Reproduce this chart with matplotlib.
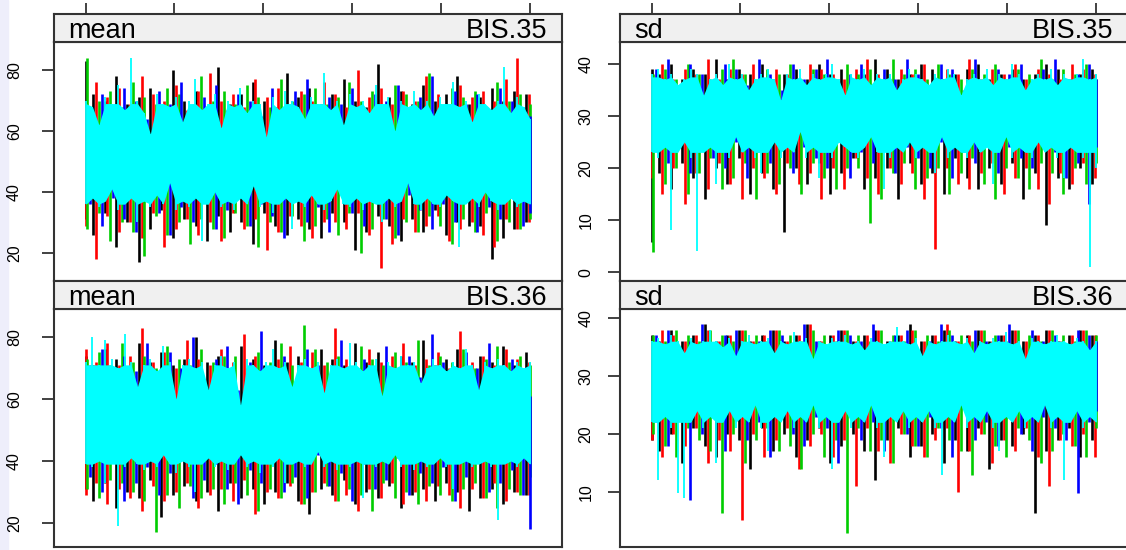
import numpy as np
import matplotlib.pyplot as plt
from matplotlib.patches import Rectangle

plt.rcParams['font.family'] = ['Liberation Sans', 'DejaVu Sans']

# --- dados: cadeias MCMC, pares (maximo, minimo) por janela de iteracoes ---
N_ITER = 1000
X_TICKS = [0, 200, 400, 600, 800, 1000]
CHAIN_COLORS = ['black', 'red', '#00CD00', 'blue', 'cyan']

# mean / BIS.35
mean35_black = [83, 31, 72, 26, 70, 33, 78, 22, 69, 30, 71, 17, 74, 28, 68, 34, 80, 25, 70, 31,
                73, 29, 67, 24, 81, 32, 69, 27, 72, 30, 76, 23, 70, 33, 68, 29, 79, 26, 71, 31,
                74, 28, 69, 25, 72, 33, 77, 30, 70, 21, 68, 27, 82, 32, 71, 29, 73, 24, 69, 31,
                75, 27, 70, 34, 72, 26, 78, 30, 69, 29, 71, 29, 74, 18, 70, 25, 73, 28, 72, 30]
mean35_red = [68, 29, 76, 18, 71, 32, 74, 27, 69, 30, 78, 25, 72, 33, 70, 22, 75, 28, 67, 31,
              73, 26, 79, 30, 70, 24, 72, 33, 68, 28, 77, 31, 71, 21, 74, 27, 69, 32, 73, 29,
              70, 25, 76, 30, 72, 30, 68, 28, 80, 33, 71, 26, 74, 15, 69, 23, 73, 31, 70, 27,
              78, 29, 72, 32, 69, 24, 75, 28, 71, 30, 73, 26, 70, 22, 77, 31, 84, 28, 72, 30]
mean35_green = [84, 28, 70, 33, 73, 24, 68, 30, 76, 27, 71, 19, 69, 32, 74, 26, 72, 30, 67, 23,
                78, 31, 70, 28, 73, 25, 69, 33, 75, 29, 71, 22, 68, 30, 77, 27, 70, 32, 72, 24,
                74, 29, 69, 31, 71, 26, 76, 33, 70, 20, 73, 28, 68, 31, 75, 25, 72, 30, 70, 27,
                79, 32, 69, 29, 74, 23, 71, 31, 73, 27, 68, 33, 76, 24, 70, 30, 72, 28, 69, 31]
mean35_blue = [60, 36, 72, 29, 66, 38, 74, 31, 70, 27, 64, 40, 73, 33, 69, 26, 76, 35, 63, 30,
               71, 39, 75, 28, 67, 34, 72, 41, 70, 29, 65, 36, 74, 32, 68, 25, 73, 38, 77, 30,
               66, 35, 71, 27, 69, 40, 74, 33, 63, 29, 72, 37, 70, 31, 75, 26, 67, 39, 71, 34,
               78, 28, 64, 36, 73, 30, 69, 42, 72, 27, 66, 35, 74, 31, 70, 38, 68, 29, 65, 33]
mean35_cyan = [70, 36, 68, 38, 62, 35, 71, 37, 69, 41, 75, 34, 67, 36, 84, 38, 70, 30, 66, 37,
               59, 35, 72, 39, 69, 36, 68, 43, 71, 34, 63, 37, 70, 35, 77, 38, 67, 24, 69, 36,
               72, 40, 61, 35, 70, 37, 68, 34, 74, 38, 66, 36, 70, 42, 69, 35, 58, 37, 71, 33,
               67, 36, 73, 38, 70, 28, 68, 37, 64, 35, 71, 39, 69, 36, 79, 34, 67, 37, 70, 41,
               62, 36, 72, 35, 68, 38, 70, 34, 66, 37, 75, 36, 69, 30, 71, 38, 60, 35, 70, 37,
               68, 43, 73, 36, 67, 34, 70, 38, 65, 36, 71, 35, 69, 39, 76, 37, 68, 22, 70, 36,
               63, 38, 72, 35, 69, 40, 67, 37, 70, 34, 81, 36, 66, 38, 71, 35, 68, 37, 64, 36]

# mean / BIS.36
mean36_black = [74, 31, 71, 27, 76, 33, 73, 25, 70, 30, 78, 28, 72, 34, 75, 22, 71, 29, 73, 32,
                80, 27, 72, 30, 74, 24, 70, 33, 77, 28, 73, 31, 71, 26, 79, 30, 72, 33, 74, 27,
                70, 23, 76, 31, 73, 29, 71, 34, 78, 26, 72, 30, 75, 28, 70, 32, 74, 25, 72, 29,
                79, 31, 71, 27, 73, 33, 76, 30, 70, 24, 74, 28, 72, 31, 77, 26, 71, 30, 75, 29]
mean36_red = [76, 29, 72, 33, 78, 26, 71, 31, 74, 28, 83, 24, 72, 32, 75, 27, 70, 30, 79, 33,
              73, 25, 71, 29, 76, 31, 72, 27, 81, 34, 74, 23, 70, 30, 73, 28, 77, 32, 72, 26,
              75, 30, 71, 33, 83, 27, 73, 29, 70, 24, 76, 31, 72, 28, 74, 33, 78, 26, 71, 30,
              73, 27, 75, 32, 70, 29, 82, 25, 72, 31, 74, 28, 71, 33, 76, 27, 73, 30, 72, 29]
mean36_green = [73, 31, 75, 28, 71, 34, 78, 33, 72, 30, 74, 27, 70, 17, 77, 29, 73, 25, 71, 32,
                76, 28, 72, 31, 74, 26, 74, 33, 70, 29, 75, 24, 72, 31, 78, 28, 71, 33, 84, 26,
                76, 30, 72, 32, 74, 27, 70, 31, 77, 29, 73, 24, 71, 33, 75, 28, 72, 30, 79, 26,
                71, 32, 74, 29, 72, 27, 76, 31, 70, 33, 73, 28, 77, 25, 72, 31, 74, 29, 71, 35]
mean36_blue = [71, 35, 76, 30, 64, 40, 74, 27, 69, 33, 78, 38, 62, 29, 75, 36, 70, 41, 80, 28,
               66, 34, 73, 39, 77, 31, 63, 26, 72, 37, 82, 33, 68, 40, 74, 30, 60, 35, 76, 28,
               71, 42, 65, 32, 79, 36, 70, 27, 73, 39, 62, 31, 77, 34, 69, 41, 74, 29, 67, 36,
               81, 33, 72, 38, 64, 27, 75, 35, 70, 40, 78, 30, 66, 33, 73, 37, 69, 29, 61, 18]
mean36_cyan = [72, 39, 80, 38, 71, 40, 79, 33, 73, 39, 70, 19, 81, 38, 72, 41, 64, 39, 71, 37,
               73, 40, 69, 38, 77, 42, 72, 39, 60, 36, 71, 40, 73, 38, 70, 30, 72, 39, 63, 41,
               71, 38, 74, 40, 70, 37, 72, 39, 58, 42, 73, 38, 71, 40, 69, 36, 72, 39, 76, 38,
               70, 41, 72, 33, 64, 39, 71, 40, 73, 38, 70, 39, 72, 43, 62, 38, 71, 40, 73, 37,
               70, 39, 78, 38, 72, 40, 69, 28, 71, 39, 73, 38, 61, 40, 72, 39, 70, 42, 74, 38,
               71, 39, 72, 37, 65, 40, 70, 38, 73, 39, 71, 41, 69, 38, 72, 31, 70, 39, 76, 40,
               71, 38, 63, 39, 72, 40, 70, 38, 73, 21, 71, 39, 69, 40, 72, 38, 70, 41, 72, 39]

# sd / BIS.35
sd35_black = [39, 5.8, 38, 19, 40, 16, 37, 21, 39, 18, 38, 14, 41, 20, 37, 17, 39, 22, 38, 15,
              40, 19, 37, 16, 38, 7.7, 39, 20, 37, 17, 40, 21, 38, 15, 39, 19, 37, 22, 38, 16,
              41, 18, 39, 20, 37, 14, 38, 21, 40, 17, 39, 19, 37, 15, 38, 22, 39, 18, 40, 16,
              37, 20, 38, 17, 39, 21, 37, 14, 38, 19, 40, 9, 39, 18, 37, 16, 38, 20, 39, 17]
sd35_red = [38, 18, 40, 15, 37, 20, 39, 13, 38, 19, 41, 16, 37, 21, 39, 17, 38, 14, 40, 20,
            37, 18, 39, 15, 38, 21, 37, 17, 40, 19, 39, 14, 38, 20, 37, 16, 39, 22, 41, 18,
            38, 15, 37, 20, 39, 17, 38, 19, 40, 14, 37, 4.5, 39, 20, 38, 17, 41, 16, 37, 19,
            39, 21, 38, 15, 40, 18, 37, 20, 39, 16, 38, 13, 37, 19, 40, 17, 39, 21, 38, 18]
sd35_green = [38, 3.8, 39, 17, 37, 20, 40, 15, 38, 19, 37, 22, 39, 16, 41, 18, 38, 21, 37, 14,
              39, 19, 38, 17, 40, 20, 37, 15, 39, 21, 38, 18, 37, 16, 40, 20, 38, 20, 39, 9.5,
              37, 14, 41, 19, 38, 21, 39, 16, 37, 18, 40, 20, 38, 15, 37, 19, 39, 22, 38, 17,
              40, 14, 37, 20, 39, 18, 38, 16, 41, 21, 37, 19, 39, 15, 38, 20, 40, 17, 37, 21]
sd35_blue = [39, 25, 41, 21, 36, 24, 40, 19, 38, 26, 35, 22, 40, 20, 39, 25, 36, 18, 41, 23,
             38, 21, 35, 26, 40, 19, 37, 24, 39, 22, 41, 20, 36, 25, 38, 18, 40, 23, 35, 21,
             39, 26, 37, 19, 41, 24, 38, 22, 36, 20, 40, 25, 39, 18, 35, 23, 41, 21, 37, 26,
             39, 19, 38, 24, 40, 22, 36, 20, 39, 25, 41, 23, 35, 18, 38, 21, 40, 13, 37, 24]
sd35_cyan = [38, 23, 39, 22, 37, 24, 38, 8, 36, 23, 37, 25, 39, 22, 38, 4, 34, 23, 37, 24,
             38, 17, 36, 23, 40, 22, 37, 26, 38, 23, 35, 24, 37, 22, 38, 19, 39, 23, 37, 25,
             33, 22, 38, 24, 37, 23, 39, 27, 36, 22, 38, 24, 37, 18, 38, 23, 40, 22, 37, 25,
             34, 24, 38, 23, 37, 22, 39, 24, 36, 26, 38, 23, 37, 16, 38, 22, 35, 24, 37, 23,
             39, 25, 38, 22, 37, 24, 36, 23, 38, 19, 37, 26, 39, 22, 38, 24, 34, 23, 37, 22,
             38, 25, 37, 23, 39, 24, 36, 17, 38, 23, 37, 26, 40, 22, 38, 24, 35, 23, 37, 22,
             38, 25, 37, 23, 39, 24, 36, 22, 38, 18, 37, 24, 38, 23, 41, 22, 37, 1, 38, 20]

# sd / BIS.36
sd36_black = [37, 19, 36, 17, 38, 20, 36, 15, 37, 21, 39, 18, 36, 16, 37, 20, 38, 19, 36, 14,
              37, 21, 38, 17, 36, 20, 37, 16, 39, 19, 36, 21, 37, 15, 38, 18, 36, 20, 37, 17,
              38, 12, 36, 19, 37, 21, 39, 16, 36, 18, 37, 20, 38, 15, 36, 19, 37, 17, 38, 21,
              36, 14, 37, 19, 38, 18, 36, 20, 37, 6.4, 38, 17, 36, 19, 37, 21, 38, 16, 37, 19]
sd36_red = [36, 19, 38, 16, 37, 20, 36, 18, 37, 21, 38, 15, 36, 19, 37, 17, 38, 5.2, 36, 20,
            37, 16, 38, 19, 36, 21, 37, 14, 39, 18, 36, 20, 37, 16, 38, 19, 36, 11, 37, 21,
            38, 17, 36, 15, 37, 20, 38, 18, 36, 16, 37, 19, 39, 21, 36, 10, 37, 17, 38, 20,
            36, 15, 37, 19, 38, 17, 36, 21, 37, 16, 38, 11, 36, 19, 37, 18, 38, 20, 37, 16]
sd36_green = [37, 20, 36, 18, 38, 16, 37, 21, 36, 19, 38, 17, 37, 6.4, 36, 20, 38, 15, 37, 19,
              36, 21, 38, 17, 37, 18, 36, 14, 38, 20, 37, 16, 36, 19, 38, 3, 37, 21, 36, 17,
              38, 19, 37, 15, 36, 20, 38, 18, 37, 16, 36, 21, 38, 19, 37, 17, 36, 13, 38, 20,
              37, 18, 36, 16, 38, 21, 37, 19, 36, 15, 38, 17, 37, 20, 36, 18, 38, 16, 37, 21]
sd36_blue = [37, 22, 38, 18, 34, 24, 36, 8.6, 39, 20, 35, 23, 37, 17, 38, 25, 33, 19, 36, 22,
             38, 16, 37, 24, 35, 20, 39, 18, 36, 23, 34, 21, 38, 15, 37, 25, 36, 19, 39, 22,
             35, 17, 37, 24, 38, 20, 34, 18, 36, 23, 39, 21, 37, 16, 35, 25, 38, 19, 36, 22,
             37, 18, 39, 24, 34, 20, 38, 17, 36, 23, 37, 21, 35, 19, 38, 9.8, 37, 22, 36, 24]
sd36_cyan = [36, 22, 36.5, 12, 35.5, 23, 37, 21, 36, 9.8, 34, 9, 36.5, 22, 35.5, 24, 36, 21, 38, 23,
             36, 15, 35, 22, 36.5, 24, 33.5, 21, 36, 23, 37, 22, 35.5, 25, 36, 21, 36.5, 17, 34, 23,
             36, 22, 35.5, 24, 37.5, 21, 36, 23, 36.5, 22, 33, 25, 36, 21, 35.5, 23, 36.5, 14, 36, 22,
             37, 24, 35.5, 21, 36, 23, 34.5, 22, 36.5, 25, 36, 21, 35.5, 16, 36, 23, 38.5, 22, 36, 24,
             35.5, 21, 36.5, 23, 33.5, 22, 36, 24, 35.5, 21, 36, 13, 37, 23, 36, 22, 35.5, 25,
             36.5, 21, 34, 23, 36, 22, 35.5, 24, 36.5, 21, 36, 17, 37.5, 23, 35.5, 22, 36, 24,
             33, 21, 36.5, 23, 36, 22, 35.5, 25, 36, 21, 37, 23, 36, 12, 35.5, 22, 36.5, 24,
             36, 21, 34.5, 23, 36, 22]

W, H = 1126, 550
EDGE = '#333333'


def rect(x0, y0, x1, y1):
    # caixa em pixels (origem no topo) -> coordenadas da figura
    return [x0 / W, 1 - y1 / H, (x1 - x0) / W, (y1 - y0) / H]


def draw_panel(box, chains, ylim, yticks, stat, param, top_ticks, pad):
    x0, x1, ys, yt, yb = box
    ax = fig.add_axes(rect(x0, yt, x1, yb))
    for k, (vals, col) in enumerate(zip(chains, CHAIN_COLORS)):
        hi = np.array(vals[0::2], dtype=float)
        lo = np.array(vals[1::2], dtype=float)
        n = len(hi)
        xs = np.linspace(1, N_ITER, n)
        if col == 'cyan':
            # ultima cadeia: miolo solido + excursoes finas
            core_hi = np.minimum(hi, np.median(hi))
            core_lo = np.maximum(lo, np.median(lo))
            ax.fill_between(xs, core_lo, core_hi, color=col, lw=0, zorder=10)
            ax.vlines(xs, lo, hi, color=col, lw=1.3, zorder=10)
        else:
            step = (N_ITER - 1) / (n - 1)
            xs = np.clip(xs + (k - 1.5) * step / 4, 1, N_ITER)
            ax.vlines(xs, lo, hi, color=col, lw=1.9, zorder=2 + k)
    ax.set_xlim(-71, 1072)
    ax.set_ylim(*ylim)
    ax.set_xticks([])
    ax.set_yticks(yticks)
    ax.set_yticklabels([str(t) for t in yticks], rotation=90, va='center', fontsize=11.5)
    ax.tick_params(axis='y', direction='out', length=9, width=1.3, color=EDGE, pad=pad)
    for s in ax.spines.values():
        s.set_color(EDGE)
        s.set_linewidth(1.5)

    st = fig.add_axes(rect(x0, ys, x1, yt), facecolor='#F0F0F0')
    st.set_xlim(-71, 1072)
    st.set_yticks([])
    if top_ticks:
        st.xaxis.tick_top()
        st.set_xticks(X_TICKS)
        st.tick_params(axis='x', direction='out', length=8, width=1.3, color=EDGE, labeltop=False)
    else:
        st.set_xticks([])
    for s in st.spines.values():
        s.set_color(EDGE)
        s.set_linewidth(1.5)
    st.text(14 / (x1 - x0), 0.16, stat, transform=st.transAxes, fontsize=19.5, ha='left', va='baseline')
    st.text(1 - 15 / (x1 - x0), 0.16, param, transform=st.transAxes, fontsize=19.5, ha='right', va='baseline')
    return ax


fig = plt.figure(figsize=(W / 100, H / 100), dpi=100)
fig.patches.append(Rectangle((0, 0), 8 / W, 1, transform=fig.transFigure, color='#EEEEFB', zorder=-1))

draw_panel((54, 562, 14, 42, 281),
           [mean35_black, mean35_red, mean35_green, mean35_blue, mean35_cyan],
           (10.8, 89.2), [20, 40, 60, 80], 'mean', 'BIS.35', True, 14)
draw_panel((54, 562, 281, 309, 547),
           [mean36_black, mean36_red, mean36_green, mean36_blue, mean36_cyan],
           (12.3, 89.0), [20, 40, 60, 80], 'mean', 'BIS.36', False, 14)
draw_panel((620, 1128, 14, 42, 281),
           [sd35_black, sd35_red, sd35_green, sd35_blue, sd35_cyan],
           (-1.7, 44.2), [0, 10, 20, 30, 40], 'sd', 'BIS.35', True, 10)
draw_panel((620, 1128, 281, 309, 547),
           [sd36_black, sd36_red, sd36_green, sd36_blue, sd36_cyan],
           (0.5, 41.55), [10, 20, 30, 40], 'sd', 'BIS.36', False, 10)

fig.savefig('out.png', dpi=100)
